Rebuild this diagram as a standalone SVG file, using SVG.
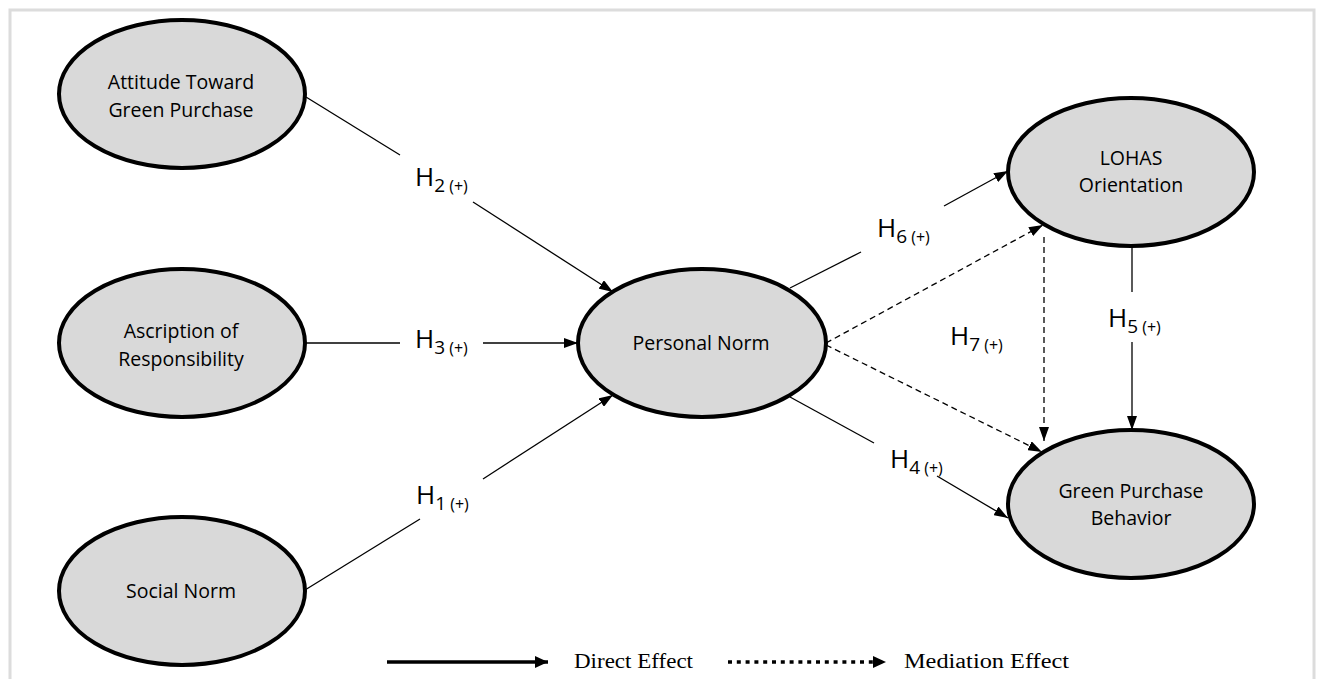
<svg xmlns="http://www.w3.org/2000/svg" width="1317" height="679" viewBox="0 0 1317 679">
  <style>
    .node ellipse { fill: #d9d9d9; stroke: #000; stroke-width: 4; }
    .node text { font-family: "Open Sans", "Liberation Sans", sans-serif; font-size: 19.5px; fill: #000; text-anchor: middle; }
    .edge { stroke: #000; stroke-width: 1.3; fill: none; }
    .dash { stroke-dasharray: 6 4; }
    .hyp { font-family: "Open Sans", "Liberation Sans", sans-serif; font-size: 26px; fill: #000; }
    .hyp .n { font-size: 19px; }
    .hyp .s { font-size: 16px; }
    .legend { font-family: "Palatino Linotype", "Liberation Serif", serif; font-size: 20px; fill: #000; }
  </style>
  <defs>
    <marker id="arrow" viewBox="0 0 14 10" refX="14" refY="5" markerWidth="14" markerHeight="10" markerUnits="userSpaceOnUse" orient="auto">
      <path d="M0,0 L14,5 L0,10 Z" fill="#000"/>
    </marker>
    <marker id="arrowLegend" viewBox="0 0 13 12" refX="13" refY="6" markerWidth="13" markerHeight="12" markerUnits="userSpaceOnUse" orient="auto">
      <path d="M0,0 L13,6 L0,12 Z" fill="#000"/>
    </marker>
  </defs>

  <rect x="0" y="0" width="1317" height="679" fill="#fff"/>
  <!-- frame -->
  <rect x="10" y="10" width="1304" height="720" fill="none" stroke="#dcdcdc" stroke-width="3"/>

  <!-- connectors -->
  <g id="connectors">
    <!-- H2 -->
    <line class="edge" x1="306" y1="97" x2="400" y2="155"/>
    <line class="edge" x1="473" y1="202" x2="613" y2="292" marker-end="url(#arrow)"/>
    <!-- H3 -->
    <line class="edge" x1="306" y1="343" x2="400" y2="343"/>
    <line class="edge" x1="483" y1="343" x2="578" y2="343" marker-end="url(#arrow)"/>
    <!-- H1 -->
    <line class="edge" x1="305" y1="590" x2="420" y2="519"/>
    <line class="edge" x1="483" y1="479" x2="613" y2="395" marker-end="url(#arrow)"/>
    <!-- H6 -->
    <line class="edge" x1="790" y1="288" x2="861" y2="252"/>
    <line class="edge" x1="944" y1="206" x2="1008" y2="171" marker-end="url(#arrow)"/>
    <!-- H4 -->
    <line class="edge" x1="790" y1="397" x2="874" y2="443"/>
    <line class="edge" x1="937" y1="476" x2="1008" y2="518" marker-end="url(#arrow)"/>
    <!-- H5 -->
    <line class="edge" x1="1132" y1="247" x2="1132" y2="292"/>
    <line class="edge" x1="1132" y1="342" x2="1132" y2="430" marker-end="url(#arrow)"/>
    <!-- H7 mediation paths -->
    <line class="edge dash" x1="826" y1="343" x2="1043" y2="225" marker-end="url(#arrow)"/>
    <line class="edge dash" x1="826" y1="345" x2="1042" y2="452" marker-end="url(#arrow)"/>
    <line class="edge dash" x1="1044" y1="237" x2="1044" y2="441" marker-end="url(#arrow)"/>
  </g>

  <!-- hypothesis labels -->
  <g id="labels">
    <text class="hyp" x="415" y="186">H<tspan class="n" dy="6">2</tspan><tspan class="s"> (+)</tspan></text>
    <text class="hyp" x="415" y="348">H<tspan class="n" dy="6">3</tspan><tspan class="s"> (+)</tspan></text>
    <text class="hyp" x="416" y="504">H<tspan class="n" dy="6">1</tspan><tspan class="s"> (+)</tspan></text>
    <text class="hyp" x="877" y="237">H<tspan class="n" dy="6">6</tspan><tspan class="s"> (+)</tspan></text>
    <text class="hyp" x="950" y="345">H<tspan class="n" dy="6">7</tspan><tspan class="s"> (+)</tspan></text>
    <text class="hyp" x="890" y="468">H<tspan class="n" dy="6">4</tspan><tspan class="s"> (+)</tspan></text>
    <text class="hyp" x="1108" y="327">H<tspan class="n" dy="6">5</tspan><tspan class="s"> (+)</tspan></text>
  </g>

  <!-- constructs -->
  <g id="attitude" class="node">
    <ellipse cx="182" cy="94" rx="123" ry="74"/>
    <text x="181" y="89">Attitude Toward</text>
    <text x="181" y="117">Green Purchase</text>
  </g>
  <g id="ascription" class="node">
    <ellipse cx="182" cy="343" rx="123" ry="74"/>
    <text x="181" y="338">Ascription of</text>
    <text x="181" y="366">Responsibility</text>
  </g>
  <g id="social-norm" class="node">
    <ellipse cx="182" cy="591" rx="123" ry="74"/>
    <text x="181" y="598">Social Norm</text>
  </g>
  <g id="personal-norm" class="node">
    <ellipse cx="702" cy="343" rx="124" ry="74"/>
    <text x="701" y="350">Personal Norm</text>
  </g>
  <g id="lohas" class="node">
    <ellipse cx="1131" cy="172" rx="123" ry="74"/>
    <text x="1131" y="165">LOHAS</text>
    <text x="1131" y="192">Orientation</text>
  </g>
  <g id="green-purchase-behavior" class="node">
    <ellipse cx="1131" cy="504" rx="123" ry="74"/>
    <text x="1131" y="498">Green Purchase</text>
    <text x="1131" y="525">Behavior</text>
  </g>

  <!-- legend -->
  <g id="legend">
    <line x1="387" y1="662" x2="548" y2="662" stroke="#000" stroke-width="3.5" marker-end="url(#arrowLegend)"/>
    <text class="legend" x="574" y="668" textLength="119" lengthAdjust="spacingAndGlyphs">Direct Effect</text>
    <line x1="728" y1="662" x2="886" y2="662" stroke="#000" stroke-width="3.5" stroke-dasharray="4 4.8" marker-end="url(#arrowLegend)"/>
    <text class="legend" x="904" y="668" textLength="165" lengthAdjust="spacingAndGlyphs">Mediation Effect</text>
  </g>
</svg>
